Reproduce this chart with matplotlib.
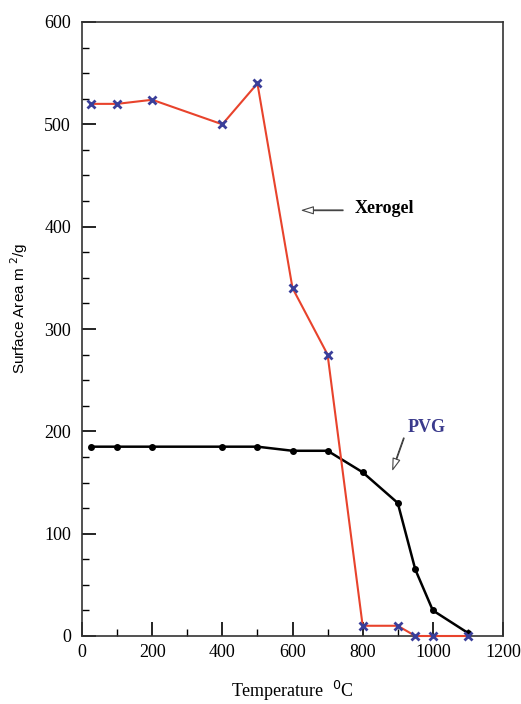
import matplotlib.pyplot as plt
from matplotlib.ticker import MultipleLocator

plt.rcParams['font.family'] = ['Liberation Serif', 'DejaVu Serif']

# --- データ ---
temp = [25, 100, 200, 400, 500, 600, 700, 800, 900, 950, 1000, 1100]
xerogel = [520, 520, 524, 500, 540, 340, 275, 10, 10, 0, 0, 0]
pvg = [185, 185, 185, 185, 185, 181, 181, 160, 130, 65, 25, 3]

fig = plt.figure(figsize=(5.21, 7.04), dpi=100)
ax = fig.add_axes([82 / 521, 68 / 704, 421 / 521, 614 / 704])

ax.plot(temp, pvg, color='black', lw=1.8, marker='o', ms=4, zorder=3,
        clip_on=False)
ax.plot(temp, xerogel, color='#e8432c', lw=1.5, marker='x', ms=6, mew=2,
        mec='#3a3f9a', zorder=4, clip_on=False)

ax.set_xlim(0, 1200)
ax.set_ylim(0, 600)
ax.xaxis.set_major_locator(MultipleLocator(200))
ax.xaxis.set_minor_locator(MultipleLocator(100))
ax.yaxis.set_major_locator(MultipleLocator(100))
ax.yaxis.set_minor_locator(MultipleLocator(25))
ax.tick_params(which='major', direction='in', length=10, width=1.2,
               labelsize=13, top=False, right=False)
ax.tick_params(which='minor', direction='in', length=5, width=1,
               top=False, right=False)
ax.tick_params(axis='y', pad=8)
ax.tick_params(axis='x', pad=6)
for s in ax.spines.values():
    s.set_linewidth(1.2)
    s.set_color('#333333')

# --- 注釈 ---
ax.annotate('', xy=(620, 416), xytext=(752, 416),
            arrowprops=dict(arrowstyle='simple,head_width=0.5,head_length=0.8,tail_width=0.05',
                            fc='white', ec='#444444', lw=0.8))
ax.text(778, 418, 'Xerogel', fontsize=13, fontweight='bold', va='center')
ax.annotate('', xy=(883, 160), xytext=(920, 196),
            arrowprops=dict(arrowstyle='simple,head_width=0.5,head_length=0.8,tail_width=0.05',
                            fc='white', ec='#444444', lw=0.8))
ax.text(928, 204, 'PVG', fontsize=13, fontweight='bold', va='center',
        color='#3a3a8c')

ax.set_ylabel('Surface Area m $^2$/g', fontsize=11, family='Liberation Sans')
ax.yaxis.set_label_coords(-0.124, 0.534)
ax.set_xlabel('Temperature  $^0$C', fontsize=13, labelpad=13)

fig.savefig('out.png', dpi=100)
